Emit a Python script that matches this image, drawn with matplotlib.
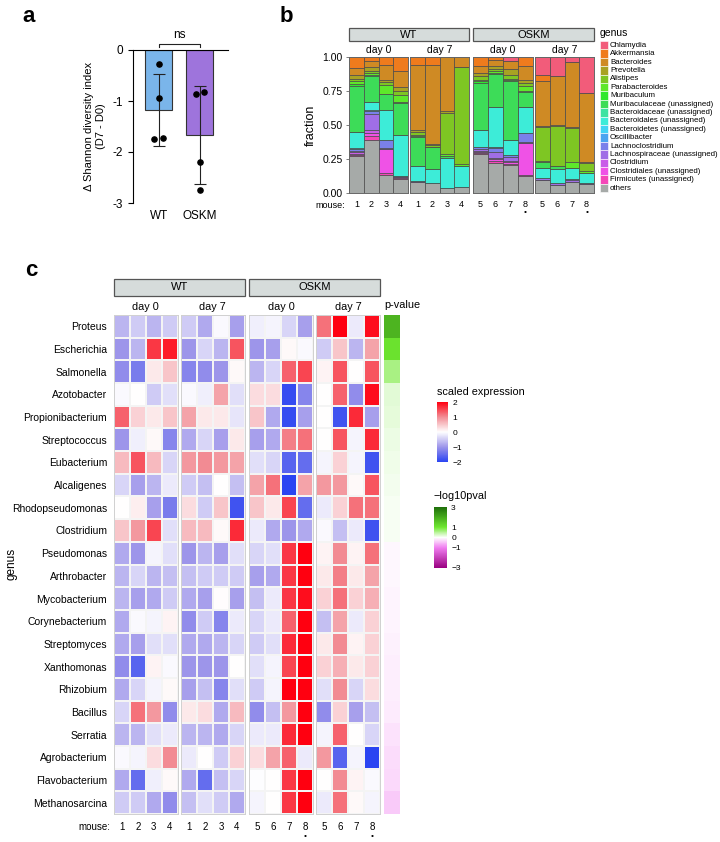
import matplotlib
matplotlib.use('Agg')
import matplotlib.pyplot as plt
from matplotlib.patches import Rectangle
from matplotlib.colors import LinearSegmentedColormap, Normalize
from matplotlib.cm import ScalarMappable
import numpy as np

plt.rcParams['font.family'] = ['Liberation Sans', 'DejaVu Sans']
plt.rcParams['axes.unicode_minus'] = False

W, H = 720, 842

# ---------------- panel a data ----------------
groups_a = ['WT', 'OSKM']
wt_delta = [-0.27, -0.95, -1.75, -1.72]
oskm_delta = [-0.87, -0.83, -2.20, -2.75]
bar_colors_a = ['#7ab5ea', '#9e74dc']

# ---------------- panel b data ----------------
genus_names = ['Chlamydia', 'Akkermansia', 'Bacteroides', 'Prevotella', 'Alistipes',
               'Parabacteroides', 'Muribaculum', 'Muribaculaceae (unassigned)',
               'Bacteroidaceae (unassigned)', 'Bacteroidales (unassigned)',
               'Bacteroidetes (unassigned)', 'Oscillibacter', 'Lachnoclostridium',
               'Lachnospiraceae (unassigned)', 'Clostridium', 'Clostridiales (unassigned)',
               'Firmicutes (unassigned)', 'others']
genus_colors = ['#f25c7a', '#ef7b1d', '#cf8a24', '#a8a223', '#7ec623', '#5ee82a',
                '#2ee82e', '#3ddc58', '#3de3a2', '#3decd8', '#42d4f4', '#4aa4f0',
                '#7a80ea', '#a06ee6', '#c95ce8', '#ef52e6', '#f447b8', '#a6aaa8']

# one row per mouse, values in genus_names order
wt_d0_frac = [
    [0, .08, .05, .03, .02, .02, .01, .345, 0, .115, .005, .005, .01, .01, .01, .01, .01, .27],
    [0, .03, .04, .03, .02, .01, .01, .19, 0, .06, .01, 0, .02, .12, .02, .02, .03, .39],
    [0, .06, .11, .015, .02, .065, 0, .12, 0, .22, 0, 0, .06, .01, 0, .17, .02, .13],
    [0, .10, .12, .03, .03, .05, .01, .23, 0, .305, 0, 0, 0, .005, 0, .01, .01, .10],
]
wt_d7_frac = [
    [0, .06, .48, .01, .02, .01, .01, .21, 0, .11, 0, 0, 0, .01, 0, 0, 0, .08],
    [0, .06, .58, .01, .01, 0, 0, .16, 0, .105, 0, 0, 0, .005, 0, 0, 0, .07],
    [0, 0, .40, .01, .30, .02, 0, .01, 0, .22, 0, 0, 0, 0, 0, 0, 0, .04],
    [0, 0, .07, 0, .72, .01, 0, 0, 0, .155, 0, 0, 0, 0, 0, 0, 0, .045],
]
oskm_d0_frac = [
    [0, .065, .055, .02, .03, .01, .01, .345, 0, .13, 0, 0, .01, .015, .005, .01, .01, .285],
    [0, .02, .045, .025, .015, .01, .01, .245, 0, .29, .005, .005, .03, .04, .01, .015, .015, .22],
    [.03, 0, .06, .04, .03, .01, .01, .43, 0, .11, 0, 0, .015, .03, .01, .01, .01, .205],
    [0, .065, .105, .02, .02, .04, .01, .105, 0, .195, 0, 0, .065, .01, 0, .23, .01, .125],
]
oskm_d7_frac = [
    [.13, .045, .335, .005, .25, .01, 0, .04, 0, .075, 0, 0, 0, .015, 0, 0, 0, .095],
    [.14, 0, .36, .005, .295, 0, 0, .02, 0, .11, 0, 0, 0, .01, 0, 0, 0, .06],
    [.035, 0, .48, .005, .25, .045, 0, 0, 0, .085, 0, 0, .005, .012, 0, 0, 0, .083],
    [.265, 0, .51, .005, .06, .015, 0, 0, 0, .075, 0, 0, 0, .006, 0, 0, 0, .064],
]
mice_wt = ['1', '2', '3', '4']
mice_oskm = ['5', '6', '7', '8']

# ---------------- panel c data ----------------
heat_rows = ['Proteus', 'Escherichia', 'Salmonella', 'Azotobacter', 'Propionibacterium',
             'Streptococcus', 'Eubacterium', 'Alcaligenes', 'Rhodopseudomonas', 'Clostridium',
             'Pseudomonas', 'Arthrobacter', 'Mycobacterium', 'Corynebacterium', 'Streptomyces',
             'Xanthomonas', 'Rhizobium', 'Bacillus', 'Serratia', 'Agrobacterium',
             'Flavobacterium', 'Methanosarcina']
wt_d0_z = [
    [-0.7, -0.5, -0.7, -0.5], [-1.0, -0.7, 1.6, 1.8], [-1.1, -1.3, 0.2, 0.5],
    [-0.05, 0.0, -0.5, -0.3], [1.3, 0.4, 0.2, 0.5], [-1.0, -0.15, 0.05, -1.2],
    [0.6, 1.4, 0.6, -0.4], [-0.4, -0.9, -0.7, -0.2], [0.0, 0.15, -0.9, -1.3],
    [0.5, 0.9, 1.5, -0.3], [-0.8, -1.0, -0.1, -0.3], [-0.7, -0.4, -0.7, -0.6],
    [-0.7, -0.9, -0.8, -0.5], [-0.8, -0.05, -0.1, 0.1], [-0.8, -0.9, -0.3, -0.3],
    [-1.1, -1.6, 0.1, -0.05], [-0.8, -0.4, -0.1, 0.05], [-0.4, 1.2, 0.9, -1.1],
    [-0.7, -0.7, -0.3, -0.2], [-0.05, -0.1, 0.3, 1.0], [-0.8, -1.5, -0.15, 0.05],
    [-0.5, -0.5, -0.8, -1.1],
]
wt_d7_z = [
    [-0.5, -0.8, -0.05, -0.9], [-1.0, -0.4, -0.7, 1.4], [-1.2, -1.1, -1.0, 0.05],
    [-0.05, -0.15, 0.8, -0.3], [0.8, 0.2, 0.2, -0.25], [-0.8, -0.4, -0.9, 0.2],
    [0.9, 1.0, 0.9, 0.8], [-0.5, -0.6, 0.0, -0.6], [0.3, -0.5, 0.5, -1.8],
    [0.6, 0.6, 0.05, 1.7], [-1.0, -0.7, -0.9, -0.3], [-0.6, -0.5, -0.5, -0.5],
    [-0.8, -0.9, 0.02, -0.9], [-1.1, -0.5, -1.2, -0.2], [-0.8, -0.8, -0.7, -0.4],
    [-1.0, -1.0, -1.0, 0.0], [-0.9, -0.6, -1.2, -0.3], [0.2, 0.3, -0.8, 0.6],
    [-0.7, -0.7, -0.8, -0.4], [-0.2, 0.0, -0.5, 0.4], [-0.8, -1.5, -0.6, -0.4],
    [-0.6, -0.3, -0.5, -0.8],
]
oskm_d0_z = [
    [-0.15, -0.1, -0.4, -0.9], [-1.0, -0.9, 0.05, -0.05], [-0.7, -0.4, 1.3, 1.5],
    [0.3, 0.3, -1.9, -1.2], [0.5, -0.8, -1.9, -0.9], [-0.9, -0.8, 1.1, 1.2],
    [-0.3, -0.4, -1.6, -1.5], [0.8, 1.2, -2.0, 0.8], [0.5, 0.2, 1.5, -1.5],
    [-0.2, -0.8, -1.0, -0.8], [-0.4, -0.3, 1.6, 2.0], [-0.9, -0.8, 1.6, 2.0],
    [-0.6, -0.2, 1.6, 1.9], [-0.4, -0.2, 1.3, 2.0], [-0.5, -0.3, 1.7, 2.0],
    [-0.3, -0.1, 1.5, 2.0], [-0.5, -0.1, 2.0, 2.0], [-1.1, -0.6, 0.9, 2.0],
    [-0.2, -0.2, 1.7, 2.0], [0.3, 0.8, 1.3, -0.2], [-0.02, 0.0, 1.6, 2.0],
    [-0.1, 0.0, 1.6, 2.0],
]
oskm_d7_z = [
    [1.2, 2.0, -0.2, 1.9], [-0.5, 0.5, -0.7, 0.8], [0.1, 1.4, 0.0, 1.4],
    [0.0, 1.3, -1.1, 1.9], [0.0, -1.8, 1.7, -0.9], [0.0, 1.4, -0.1, 1.7],
    [-0.1, 0.4, -0.1, -1.8], [0.9, 0.9, 0.05, 1.4], [-0.2, 0.4, 1.2, 1.2],
    [-0.05, -0.6, -0.2, -1.8], [0.1, 1.0, 0.1, 1.2], [0.2, 1.1, 0.2, 0.8],
    [0.4, 1.2, 0.4, 0.7], [-0.6, 0.8, -0.2, 0.4], [0.2, 1.0, 0.1, 0.4],
    [0.4, 0.7, 0.2, 0.4], [-0.3, 1.0, -0.4, 0.3], [-1.1, 0.4, -0.9, -0.6],
    [-0.1, 1.3, 0.0, -0.4], [0.9, -1.6, -0.1, -2.0], [0.0, 1.0, 0.1, -0.05],
    [-0.2, 1.2, 0.05, -0.1],
]
neglog_p = [1.85, 1.1, 0.6, 0.2, 0.17, 0.14, 0.11, 0.09, 0.07, 0.05, -0.06, -0.07,
            -0.08, -0.09, -0.1, -0.12, -0.14, -0.16, -0.22, -0.27, -0.3, -0.42]

fig = plt.figure(figsize=(W / 100, H / 100), dpi=100)


def px_axes(x0, y0, x1, y1):
    return fig.add_axes((x0 / W, 1 - y1 / H, (x1 - x0) / W, (y1 - y0) / H))


def ftext(x, y, s, **kw):
    fig.text(x / W, 1 - y / H, s, **kw)


def fbox(x0, y0, x1, y1, label):
    fig.patches.append(Rectangle((x0 / W, 1 - y1 / H), (x1 - x0) / W, (y1 - y0) / H,
                                 transform=fig.transFigure, facecolor='#d6dcdb',
                                 edgecolor='#555555', linewidth=0.9))
    ftext((x0 + x1) / 2, (y0 + y1) / 2, label, ha='center', va='center', fontsize=8)


# ============ panel a ============
ftext(22, 16, 'a', fontsize=16, fontweight='bold', va='center')
ax = px_axes(133, 50, 228, 203)
pts = [wt_delta, oskm_delta]
means = [np.mean(p) for p in pts]
sds = [np.std(p, ddof=1) for p in pts]
xpos = [0, 1]
ax.bar(xpos, means, width=0.65, color=bar_colors_a, edgecolor='#333333', linewidth=0.8, zorder=1)
ax.errorbar(xpos, means, yerr=sds, fmt='none', ecolor='#222222', elinewidth=0.8,
            capsize=4, capthick=0.8, zorder=2)
jitter = [[0.0, 0.0, -0.11, 0.11], [-0.1, 0.1, 0.0, 0.0]]
for i, p in enumerate(pts):
    ax.scatter(np.array(jitter[i]) + xpos[i], p, s=14, color='black', zorder=3)
ax.set_xlim(-0.62, 1.68)
ax.set_ylim(-3, 0)
ax.set_yticks([0, -1, -2, -3])
ax.set_xticks(xpos)
ax.set_xticklabels(groups_a, fontsize=8.5)
ax.tick_params(axis='x', length=0, pad=5)
ax.tick_params(axis='y', labelsize=8.5, length=3.5, width=0.8)
for s in ['right', 'bottom']:
    ax.spines[s].set_visible(False)
ax.spines['left'].set_linewidth(0.8)
ax.spines['top'].set_linewidth(0.8)
ax.set_ylabel('Δ Shannon diversity index\n(D7 - D0)', fontsize=8, labelpad=5)
ax.plot([0, 0, 1, 1], [0.06, 0.12, 0.12, 0.06], color='#222222', lw=0.8, clip_on=False)
ax.text(0.5, 0.17, 'ns', ha='center', va='bottom', fontsize=8.5)

# ============ panel b ============
ftext(280, 16, 'b', fontsize=16, fontweight='bold', va='center')
facets_b = [(349, 408, wt_d0_frac, mice_wt, 'day 0'),
            (410, 469, wt_d7_frac, mice_wt, 'day 7'),
            (473, 533, oskm_d0_frac, mice_oskm, 'day 0'),
            (535, 594, oskm_d7_frac, mice_oskm, 'day 7')]
for k, (x0, x1, frac, mice, day) in enumerate(facets_b):
    axb = px_axes(x0, 57, x1, 193)
    vals = np.array(frac).T  # genus x mouse
    bottom = np.zeros(vals.shape[1])
    for gi in range(len(genus_names) - 1, -1, -1):
        axb.bar(range(len(mice)), vals[gi], bottom=bottom, width=1.0,
                color=genus_colors[gi], edgecolor='#4a4a4a', linewidth=0.5)
        bottom += vals[gi]
    axb.set_xlim(-0.5, 3.5)
    axb.set_ylim(0, 1)
    axb.set_xticks(range(len(mice)))
    axb.set_xticklabels(mice, fontsize=6.5)
    axb.tick_params(axis='x', length=0, pad=5)
    for s in axb.spines.values():
        s.set_color('#666666')
        s.set_linewidth(0.7)
    if k == 0:
        axb.set_yticks([0, 0.25, 0.5, 0.75, 1.0])
        axb.set_yticklabels(['0.00', '0.25', '0.50', '0.75', '1.00'], fontsize=7.5)
        axb.tick_params(axis='y', length=2.5, color='#666666', width=0.6, pad=2)
        axb.set_ylabel('fraction', fontsize=9, labelpad=4)
    else:
        axb.set_yticks([])
    if k >= 2:
        axb.text(3, -0.145, '•', transform=axb.get_xaxis_transform(), ha='center',
                 va='center', fontsize=6)
    ftext((x0 + x1) / 2, 50, day, ha='center', va='center', fontsize=7.5)
ftext(345, 205, 'mouse:', ha='right', va='center', fontsize=6.5)
fbox(349, 28, 469, 41, 'WT')
fbox(473, 28, 594, 41, 'OSKM')

# legend
ftext(600, 33, 'genus', ha='left', va='center', fontsize=7.5)
for i, (name, col) in enumerate(zip(genus_names, genus_colors)):
    yc = 45.2 + i * 8.4
    fig.patches.append(Rectangle((600 / W, 1 - (yc + 4.2) / H), 7.5 / W, 8.4 / H,
                                 transform=fig.transFigure, facecolor=col,
                                 edgecolor='white', linewidth=0.4))
    ftext(610, yc, name, ha='left', va='center', fontsize=5.7)

# ============ panel c ============
ftext(25, 270, 'c', fontsize=16, fontweight='bold', va='center')
expr_cmap = LinearSegmentedColormap.from_list(
    'expr', [(0, '#2a44f2'), (0.25, '#9d95ea'), (0.5, '#ffffff'), (0.75, '#f28d95'), (1.0, '#ff0010')])
p_cmap = LinearSegmentedColormap.from_list(
    'pval', [(0, '#990080'), (1 / 3, '#f07ef0'), (0.5, '#ffffff'), (2 / 3, '#6fe830'), (1.0, '#1e6e0a')])
top, bot = 315, 814
facets_c = [(114, 177.7, wt_d0_z, mice_wt, 'day 0', False),
            (180.7, 245, wt_d7_z, mice_wt, 'day 7', False),
            (249, 313, oskm_d0_z, mice_oskm, 'day 0', True),
            (316, 380, oskm_d7_z, mice_oskm, 'day 7', True)]
nrow = len(heat_rows)
for k, (x0, x1, z, mice, day, dot) in enumerate(facets_c):
    axc = px_axes(x0, top, x1, bot)
    axc.pcolormesh(np.array(z), cmap=expr_cmap, vmin=-2, vmax=2,
                   edgecolors='#f4f4f4', linewidth=0.1)
    axc.set_xlim(0, 4)
    axc.set_ylim(nrow, 0)
    axc.set_xticks(np.arange(4) + 0.5)
    axc.set_xticklabels(mice, fontsize=7)
    axc.tick_params(axis='x', length=0, pad=6)
    if k == 0:
        axc.set_yticks(np.arange(nrow) + 0.5)
        axc.set_yticklabels(heat_rows, fontsize=7.5)
        axc.tick_params(axis='y', length=0, pad=5)
    else:
        axc.set_yticks([])
    for s in axc.spines.values():
        s.set_color('#d0d0d0')
        s.set_linewidth(0.7)
    if dot:
        axc.text(3.5, -0.045, '•', transform=axc.get_xaxis_transform(), ha='center',
                 va='center', fontsize=6)
    ftext((x0 + x1) / 2, 307, day, ha='center', va='center', fontsize=7.8)
ftext(11, 564, 'genus', rotation=90, ha='center', va='center', fontsize=8.5)
ftext(110, 827, 'mouse:', ha='right', va='center', fontsize=7)
fbox(114, 279, 245, 296, 'WT')
fbox(249, 279, 380, 296, 'OSKM')

axp = px_axes(384, top, 400, bot)
axp.pcolormesh(np.array(neglog_p).reshape(-1, 1), cmap=p_cmap, vmin=-3, vmax=3)
axp.set_ylim(nrow, 0)
axp.set_xticks([])
axp.set_yticks([])
for s in axp.spines.values():
    s.set_visible(False)
ftext(384, 305, 'p-value', ha='left', va='center', fontsize=7.8)

# colour legends
ftext(437, 392, 'scaled expression', ha='left', va='center', fontsize=7.8)
cax1 = px_axes(437, 402, 448, 462)
cb1 = fig.colorbar(ScalarMappable(norm=Normalize(-2, 2), cmap=expr_cmap), cax=cax1)
cb1.set_ticks([-2, -1, 0, 1, 2])
cb1.set_ticklabels(['\u22122', '\u22121', '0', '1', '2'])
cb1.ax.tick_params(length=0, labelsize=6, pad=3)
cb1.outline.set_visible(False)

ftext(434, 496, '\u2212log10pval', ha='left', va='center', fontsize=7.8)
cax2 = px_axes(434, 507, 447, 568)
cb2 = fig.colorbar(ScalarMappable(norm=Normalize(-3, 3), cmap=p_cmap), cax=cax2)
cb2.set_ticks([-3, -1, 0, 1, 3])
cb2.set_ticklabels(['\u22123', '\u22121', '0', '1', '3'])
cb2.ax.tick_params(length=0, labelsize=6, pad=3)
cb2.outline.set_visible(False)

fig.savefig('out.png', dpi=100, facecolor='white')
